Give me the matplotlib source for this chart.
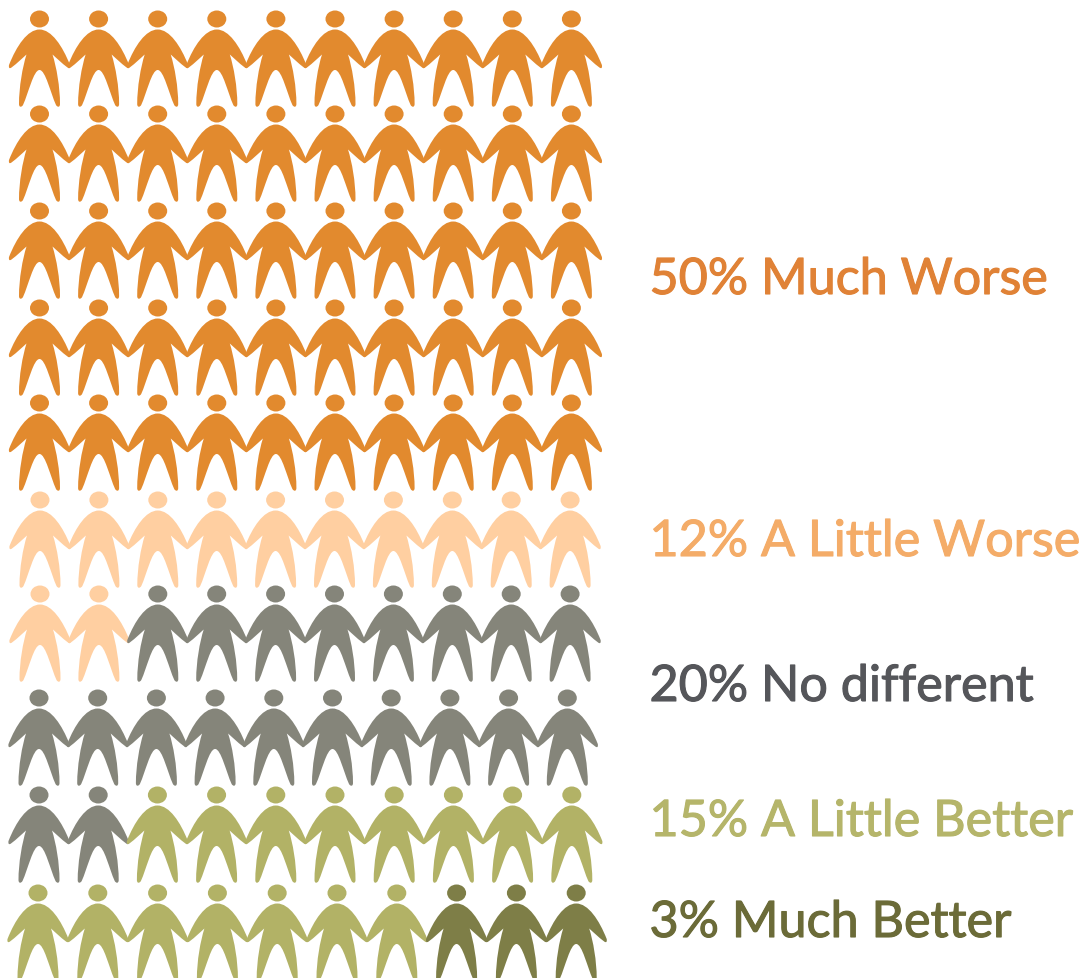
import matplotlib
matplotlib.use('Agg')
import matplotlib.pyplot as plt
import matplotlib.patheffects as pe
from matplotlib.path import Path
from matplotlib.patches import PathPatch, Ellipse
from matplotlib.transforms import Affine2D

labels = ['50% Much Worse', '12% A Little Worse', '20% No different', '15% A Little Better', '3% Much Better']
counts = [50, 12, 20, 15, 3]
person_colors = ['#E28A2E', '#FFCFA1', '#85857A', '#B2B266', '#7E7E47']
text_colors = ['#E08236', '#F4AC68', '#55565A', '#B5B56A', '#6B6B38']
label_y = [281, 543, 688, 823, 924]

# head centre of the first person in each row, and spacing along the row
row_y = [20, 115, 212, 309, 404, 501, 595, 699, 796, 894]
row_x0 = [39.5, 39.5, 39.5, 39.5, 39.5, 40, 40, 39, 39, 38]
row_dx = [59.1, 59.1, 59.1, 59.1, 59.1, 58.9, 58.9, 58.7, 59.2, 59.8]

# one person, half outline in px from the head centre, mirrored below
half = [
    (0, 10.5),
    (-12, 10.5), (-23, 27), (-30.5, 46),
    (-31, 49), (-30, 50), (-28, 48.5),
    (-22, 44), (-18, 40), (-13, 35.5),
    (-17, 48), (-20.5, 68), (-20.5, 85),
    (-20.5, 88.5), (-18, 88.5), (-16.5, 86),
    (-11, 74), (-6, 51), (0, 51),
]
verts = list(half)
for x, y in half[-2::-1]:
    verts.append((-x, y))
codes = [Path.MOVETO] + [Path.CURVE4] * (len(verts) - 1)
body = Path(verts, codes)

fig = plt.figure(figsize=(10.86, 9.79), dpi=100)
ax = fig.add_axes([0, 0, 1, 1])
ax.set_xlim(0, 1086)
ax.set_ylim(979, 0)
ax.axis('off')

colors = []
for n, c in zip(counts, person_colors):
    colors += [c] * n

for i, c in enumerate(colors):
    row, col = divmod(i, 10)
    x = row_x0[row] + col * row_dx[row]
    y = row_y[row]
    ax.add_patch(PathPatch(body, fc=c, ec='none', transform=Affine2D().translate(x, y) + ax.transData))
    ax.add_patch(Ellipse((x, y), 19, 17, fc=c, ec='none'))

for lab, y, c in zip(labels, label_y, text_colors):
    t = ax.text(649.5, y, lab, color=c, family=['Lato', 'DejaVu Sans'], fontsize=36.2, va='center', ha='left')
    t.set_path_effects([pe.withStroke(linewidth=0.8, foreground=c)])

fig.savefig('out.png', dpi=100)
